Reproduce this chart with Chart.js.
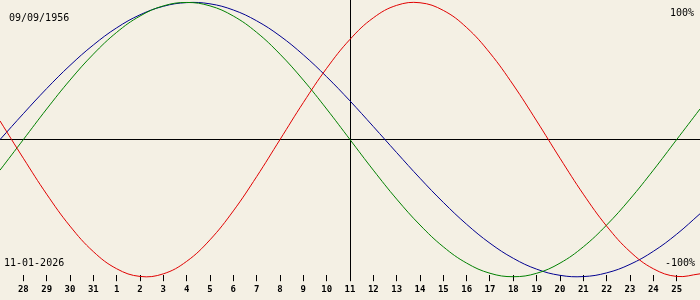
<!DOCTYPE html>
<html>
<head>
<meta charset="utf-8">
<script src="https://cdn.jsdelivr.net/npm/chart.js@4.4.0/dist/chart.umd.min.js"></script>
<style>
    html, body { margin: 0; padding: 0; background: #f4f0e4; }
    #wrap { width: 700px; height: 300px; }
</style>
</head>
<body>
<div id="wrap"><canvas id="bioChart"></canvas></div>
<script>
// day offsets from the selected date (11 Jan 2026), one per day
const dayOffsets = [-15, -14, -13, -12, -11, -10, -9, -8, -7, -6, -5, -4, -3, -2, -1, 0,
    1, 2, 3, 4, 5, 6, 7, 8, 9, 10, 11, 12, 13, 14, 15];
const dayLabels = ['27', '28', '29', '30', '31', '1', '2', '3', '4', '5', '6', '7', '8', '9', '10', '11',
    '12', '13', '14', '15', '16', '17', '18', '19', '20', '21', '22', '23', '24', '25', '26'];

// values in percent
const physical = [13.6, -13.6, -39.8, -63.1, -81.7, -94.2, -99.8, -97.9, -88.8, -73.1, -52.0, -27.0, 0, 27.0, 52.0, 73.1,
    88.8, 97.9, 99.8, 94.2, 81.7, 63.1, 39.8, 13.6, -13.6, -39.8, -63.1, -81.7, -94.2, -99.8, -97.9];
const emotional = [-22.3, 0, 22.3, 43.4, 62.3, 78.2, 90.1, 97.5, 100, 97.5, 90.1, 78.2, 62.3, 43.4, 22.3, 0,
    -22.3, -43.4, -62.3, -78.2, -90.1, -97.5, -100, -97.5, -90.1, -78.2, -62.3, -43.4, -22.3, 0, 22.3];
const intellectual = [0, 18.9, 37.2, 54.1, 69.0, 81.5, 91.0, 97.2, 99.9, 99.0, 94.5, 86.6, 75.6, 61.8, 45.8, 28.2,
    9.5, -9.5, -28.2, -45.8, -61.8, -75.6, -86.6, -94.5, -99.0, -99.9, -97.2, -91.0, -81.5, -69.0, -54.1];

const birthDate = '09/09/1956';
const shownDate = '11-01-2026';
const topLabel = '100%';
const bottomLabel = '-100%';

const toPoints = vals => vals.map((v, i) => ({ x: dayOffsets[i], y: v }));

const cornerText = {
    id: 'cornerText',
    afterDraw(chart) {
        const c = chart.ctx;
        c.save();
        c.font = '10px "DejaVu Sans Mono"';
        c.fillStyle = '#000';
        c.textBaseline = 'alphabetic';
        c.textAlign = 'left';
        c.fillText(birthDate, 9, 21);
        c.fillText(shownDate, 4, 266);
        c.textAlign = 'right';
        c.fillText(topLabel, 694, 16);
        c.fillText(bottomLabel, 695, 266);
        c.restore();
    }
};

const line = (data, color) => ({
    data: toPoints(data),
    borderColor: color,
    borderWidth: 1,
    pointRadius: 0,
    tension: 0.4,
    fill: false,
    clip: false
});

new Chart(document.getElementById('bioChart'), {
    type: 'line',
    data: {
        datasets: [
            line(physical, '#e00000'),
            line(emotional, '#008000'),
            line(intellectual, '#000090')
        ]
    },
    options: {
        responsive: true,
        maintainAspectRatio: false,
        animation: false,
        layout: { padding: { left: 0, right: 0, top: 0, bottom: 2 } },
        plugins: { legend: { display: false }, tooltip: { enabled: false } },
        scales: {
            x: {
                type: 'linear',
                min: -15,
                max: 15,
                afterBuildTicks: scale => {
                    scale.ticks = dayOffsets.filter(d => d > -15 && d < 15).map(d => ({ value: d }));
                },
                ticks: {
                    autoSkip: false,
                    maxRotation: 0,
                    padding: 3,
                    color: '#000',
                    font: { family: 'DejaVu Sans Mono', size: 9, weight: 'bold' },
                    callback: v => dayLabels[dayOffsets.indexOf(v)]
                },
                grid: {
                    color: c => (c.tick && c.tick.value === 0 ? '#000' : 'rgba(0,0,0,0)'),
                    tickColor: '#000',
                    tickLength: 6,
                    lineWidth: 1
                },
                border: { display: false }
            },
            y: {
                min: -98.9,
                max: 101.8,
                afterBuildTicks: scale => { scale.ticks = [{ value: 0 }]; },
                ticks: { display: false },
                grid: { color: '#000', drawTicks: false, lineWidth: 1 },
                border: { display: false }
            }
        }
    },
    plugins: [cornerText]
});
</script>
</body>
</html>
